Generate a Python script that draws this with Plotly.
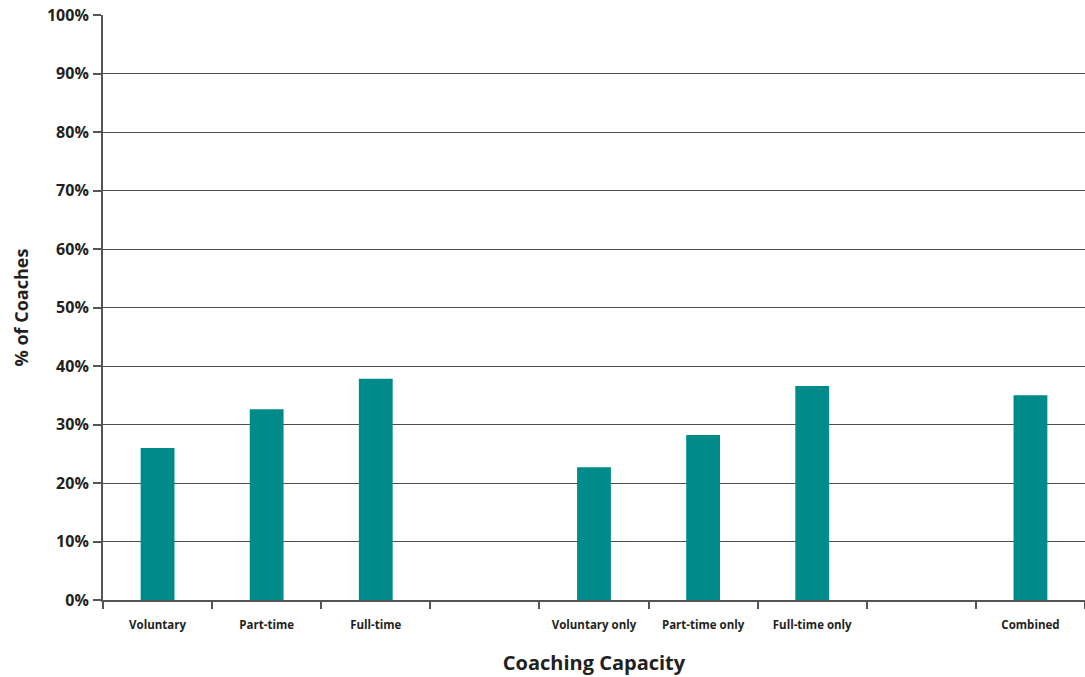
import plotly.graph_objects as go

categories = ['Voluntary', 'Part-time', 'Full-time', ' ',
              'Voluntary only', 'Part-time only', 'Full-time only', '  ',
              'Combined']
values = [26.0, 32.6, 37.8, None, 22.7, 28.2, 36.6, None, 35.0]
y_ticks = list(range(0, 101, 10))
y_labels = [f'{v}%' for v in y_ticks]

font = 'Open Sans'

fig = go.Figure(go.Bar(
    x=categories,
    y=values,
    marker_color='#008B8B',
    marker_line_width=0,
))

fig.update_layout(
    width=1085, height=677,
    margin=dict(l=103, r=0, t=15, b=77),
    plot_bgcolor='white', paper_bgcolor='white',
    bargap=0.69,
    showlegend=False,
    font=dict(family=font, color='#231f20'),
)

fig.update_xaxes(
    type='category',
    automargin=False,
    tickson='boundaries',
    ticks='outside', ticklen=7, tickcolor='#555555', tickwidth=1.5,
    showgrid=False,
    showline=True, linecolor='#555555', linewidth=2,
    tickfont=dict(size=11.5, family=font, weight='bold'),
    ticklabelstandoff=13,
    title=dict(text='Coaching Capacity', font=dict(size=20, family=font, weight='bold'), standoff=25),
)

fig.update_yaxes(
    automargin=False,
    range=[0, 100],
    tickvals=y_ticks, ticktext=y_labels,
    ticks='outside', ticklen=8, tickcolor='#555555', tickwidth=1.5,
    showgrid=True, gridcolor='#4d4d4d', gridwidth=1.2,
    showline=True, linecolor='#555555', linewidth=2,
    zeroline=False,
    ticklabelstandoff=1,
    tickfont=dict(size=16, family=font, weight='bold'),
    title=dict(text='% of Coaches', font=dict(size=18, family=font, weight='bold'), standoff=14),
)

# drop the default 8px page margin so the figure fills the window
fig.write_html('out.html', config={'displayModeBar': False},
               post_script="document.body.style.margin='0';")
